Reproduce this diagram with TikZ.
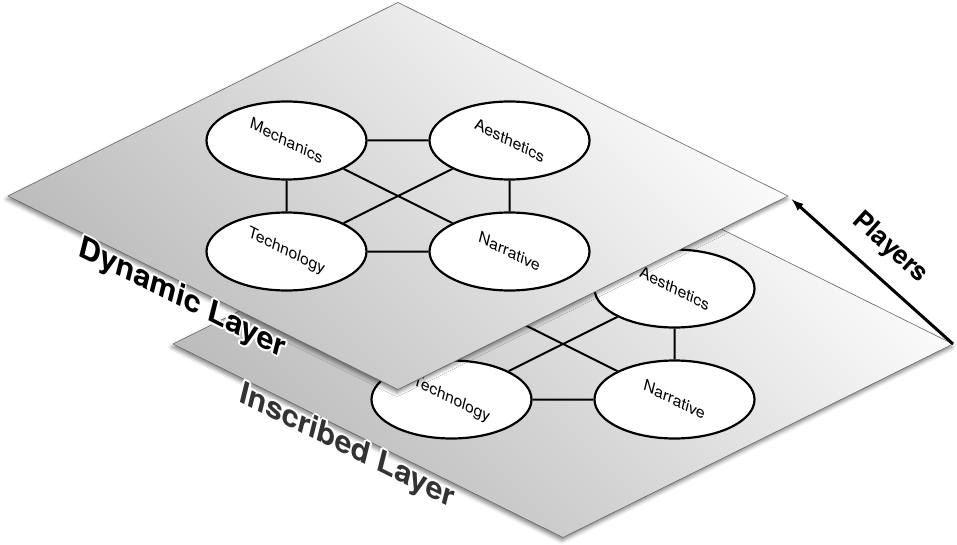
\documentclass[tikz,border=0pt]{standalone}
\usepackage{fontspec}
\setmainfont{TeX Gyre Heros}
\usetikzlibrary{shapes.geometric,% allows nodes to be ellipses
shadows.blur}%                   soft shadows under the layers
\tikzset{every node/.style={font=\fontsize{15}{17}\selectfont},
  layer/.style={draw=black!60, line width=0.6pt, top color=black!1, bottom color=black!27,
    shading angle=-45, blur shadow={shadow xshift=-1pt, shadow yshift=-3pt,
    shadow blur radius=4pt, shadow opacity=50}},
  elem/.style={ellipse, draw, line width=2.2pt, fill=white, minimum width=160pt,
    minimum height=78pt, inner sep=0pt},
  link/.style={line width=2pt},
  flat/.style={cm={1,-0.5,0.25,1,(0,0)}},
  layername/.style={flat, font=\fontsize{29}{34}\selectfont\bfseries}}

\begin{document}
\begin{tikzpicture}[x=1pt, y=1pt, >=latex]
      \useasboundingbox (0,0) rectangle (957,-545);
      % \draw[step=50,gray,ultra thin] (0,0) grid (957,-545);
      \foreach \l/\cx/\cy/\lname/\ink in {i/563/-344/Inscribed Layer/black!80, d/398/-196/Dynamic Layer/black}{
      \begin{scope}[shift={(\cx,\cy)}]
      \coordinate (\l-w) at (-390,0);
      \coordinate (\l-n) at (0,193.5);
      \coordinate (\l-e) at (390,0);
      \coordinate (\l-s) at (0,-193.5);
      \shadedraw[layer] (\l-w) -- (\l-n) -- (\l-e) -- (\l-s) -- cycle;
      
      \node[elem] (\l-mech) at (-111.5,55.5) {};
      \node[elem] (\l-aest) at (111.5,55.5) {};
      \node[elem] (\l-tech) at (-111.5,-55.5) {};
      \node[elem] (\l-narr) at (111.5,-55.5) {};
      \draw[link] (\l-mech) -- (\l-aest) (\l-tech) -- (\l-narr)
        (\l-mech) -- (\l-tech) (\l-aest) -- (\l-narr)
        (\l-mech) -- (\l-narr) (\l-tech) -- (\l-aest);
      \node[flat] (\l-mech-t) at (\l-mech) {Mechanics};
      \node[flat] (\l-aest-t) at (\l-aest) {Aesthetics};
      \node[flat] (\l-tech-t) at (\l-tech) {Technology};
      \node[flat] (\l-narr-t) at (\l-narr) {Narrative};
      
      \foreach \a in {0,30,...,330}
      \node[layername, text=white, shift={(\a:1.8)}] (\l-halo-\a) at (-216,-103) {\lname};
      \node[layername, text=\ink] (\l-name) at (-216,-103) {\lname};
      \end{scope}}
      
      \node[font=\fontsize{26}{30}\selectfont\bfseries, rotate=-42] (players) at (890,-248) {Players};
      \draw[->, line width=3pt, shorten >=5pt] (i-e) -- (d-e);
\end{tikzpicture}
\end{document}
